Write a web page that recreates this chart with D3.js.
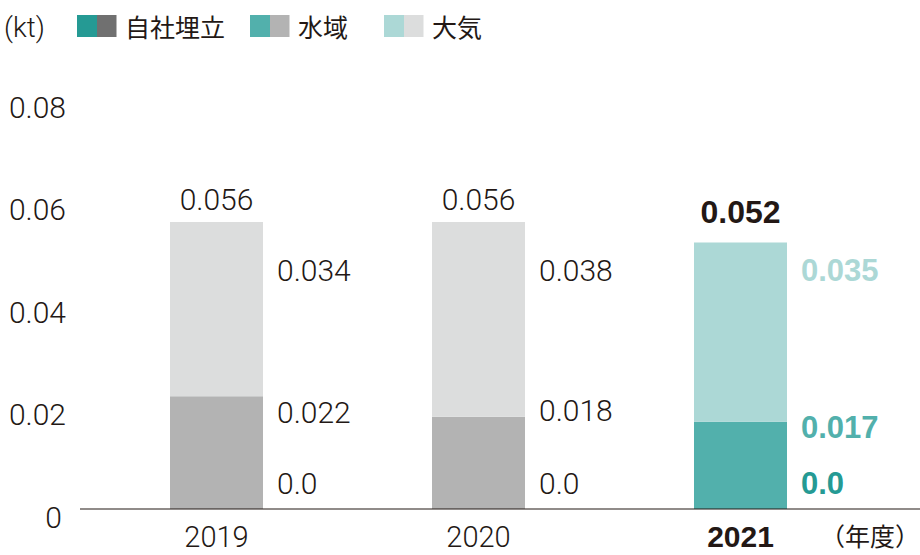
<!DOCTYPE html>
<html>
<head>
<meta charset="utf-8">
<script src="https://cdn.jsdelivr.net/npm/d3@7"></script>
<style>
  body { margin: 0; background: #fff; }
  svg { display: block; }
  text { font-family: Roboto, "Liberation Sans", sans-serif; font-weight: 300; fill: #231815; }
  .jp { font-family: "Noto Sans CJK JP", sans-serif; font-weight: 400; }
  .bold { font-family: "Liberation Sans", Arial, sans-serif; font-weight: 700; }
</style>
</head>
<body>
<svg id="chart" width="920" height="555"></svg>
<script>
'use strict';

// data (kt)
var years = ["2019", "2020", "2021"];
var seriesNames = ["自社埋立", "水域", "大気"];
var landfill = [0.0, 0.0, 0.0];
var water = [0.022, 0.018, 0.017];
var air = [0.034, 0.038, 0.035];
var totals = ["0.056", "0.056", "0.052"];
var landfillLabels = ["0.0", "0.0", "0.0"];
var waterLabels = ["0.022", "0.018", "0.017"];
var airLabels = ["0.034", "0.038", "0.035"];
var yTicks = [0, 0.02, 0.04, 0.06, 0.08];
var highlight = "2021";

var grey = ["#707070", "#b3b3b3", "#dcdddd"];
var teal = ["#259a94", "#52b0ac", "#acd8d6"];

var svg = d3.select("#chart");

var x = d3.scaleBand().domain(years).range([85.5, 871.5]).paddingInner(0.645).paddingOuter(0.3225);
var y = d3.scaleLinear().domain([0, 0.08]).range([509, 99]);

// stacked bars
var rows = years.map(function(yr, i) {
  return { year: yr, landfill: landfill[i], water: water[i], air: air[i] };
});
var layers = d3.stack().keys(["landfill", "water", "air"])(rows);

layers.forEach(function(layer, k) {
  svg.append("g").selectAll("rect")
    .data(layer)
    .join("rect")
      .attr("x", function(d) { return x(d.data.year); })
      .attr("width", x.bandwidth())
      .attr("y", function(d) { return y(d[1]); })
      .attr("height", function(d) { return y(d[0]) - y(d[1]); })
      .attr("fill", function(d) { return d.data.year === highlight ? teal[k] : grey[k]; });
});

// baseline
svg.append("line")
  .attr("x1", 80).attr("x2", 920)
  .attr("y1", y(0)).attr("y2", y(0))
  .attr("stroke", "#231815").attr("stroke-width", 1.2);

// y axis labels
var yAxis = d3.axisLeft(y).tickValues(yTicks)
  .tickFormat(function(d) { return d === 0 ? "0" : d3.format(".2f")(d); })
  .tickSize(0).tickPadding(0);
var yg = svg.append("g").attr("transform", "translate(66,0)").call(yAxis);
yg.select(".domain").remove();
yg.selectAll("text")
  .attr("dy", null).attr("y", 18)
  .attr("dx", function(d) { return d === 0 ? -4 : 0; })
  .style("font-family", "Roboto, 'Liberation Sans', sans-serif")
  .style("font-weight", 300)
  .style("font-size", "30px")
  .attr("fill", "#231815");

// x axis labels
var xAxis = d3.axisBottom(x).tickSize(0).tickPadding(0);
var xg = svg.append("g").attr("transform", "translate(0," + y(0) + ")").call(xAxis);
xg.select(".domain").remove();
xg.selectAll("text")
  .attr("dy", null).attr("y", 38)
  .style("font-family", function(d) { return d === highlight ? "'Liberation Sans', Arial, sans-serif" : "Roboto, 'Liberation Sans', sans-serif"; })
  .style("font-weight", function(d) { return d === highlight ? 700 : 300; })
  .style("font-size", function(d) { return d === highlight ? "30px" : "29px"; })
  .attr("fill", "#231815");

svg.append("text").attr("class", "jp")
  .attr("x", 920).attr("y", 546)
  .attr("text-anchor", "end")
  .style("font-size", "25px")
  .text("（年度）");

// totals above bars
svg.append("g").selectAll("text")
  .data(years)
  .join("text")
    .attr("class", function(d) { return d === highlight ? "bold" : null; })
    .attr("x", function(d) { return x(d) + x.bandwidth() / 2; })
    .attr("y", function(d, i) { return y(landfill[i] + water[i] + air[i]) - (d === highlight ? 20 : 12); })
    .attr("text-anchor", "middle")
    .style("font-size", function(d) { return d === highlight ? "32px" : "30px"; })
    .text(function(d, i) { return totals[i]; });

// segment labels to the right of each bar
var waterRow = [423, 421, 438];
var airRow = 281;
var landfillRow = 494;
function segLabels(labels, k, rowY) {
  svg.append("g").selectAll("text")
    .data(years)
    .join("text")
      .attr("class", function(d) { return d === highlight ? "bold" : null; })
      .attr("x", function(d) { return x(d) + x.bandwidth() + 14; })
      .attr("y", function(d, i) { return Array.isArray(rowY) ? rowY[i] : rowY; })
      .style("fill", function(d) { return d === highlight ? teal[k] : "#231815"; })
      .style("font-size", function(d) { return d === highlight ? "31px" : "30px"; })
      .text(function(d, i) { return labels[i]; });
}
segLabels(airLabels, 2, airRow);
segLabels(waterLabels, 1, waterRow);
segLabels(landfillLabels, 0, landfillRow);

// legend
svg.append("text")
  .attr("x", 4).attr("y", 37)
  .style("font-size", "28px")
  .text("(kt)");

var legendX = [77, 250, 384];
var lg = svg.append("g").selectAll("g")
  .data(seriesNames)
  .join("g")
    .attr("transform", function(d, i) { return "translate(" + legendX[i] + ",15)"; });
lg.append("rect").attr("width", 20).attr("height", 22)
  .attr("fill", function(d, i) { return teal[i]; });
lg.append("rect").attr("x", 20).attr("width", 19.5).attr("height", 22)
  .attr("fill", function(d, i) { return grey[i]; });
lg.append("text").attr("class", "jp")
  .attr("x", 48).attr("y", 22)
  .style("font-size", "25px")
  .text(function(d) { return d; });
</script>
</body>
</html>
